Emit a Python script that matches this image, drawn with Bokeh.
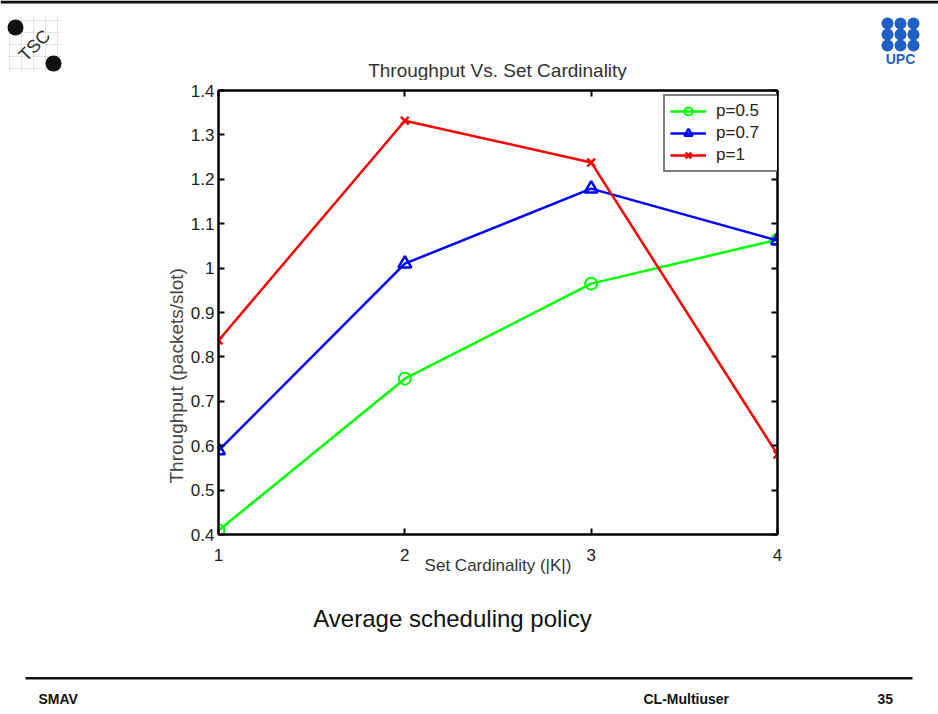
import math
from bokeh.plotting import figure
from bokeh.layouts import column
from bokeh.models import (Range1d, LinearAxis, FixedTicker, Legend, LegendItem, Title)
from bokeh.core.properties import value
from bokeh.embed import file_html
from bokeh.resources import INLINE

# ---------------- data ----------------
cardinality = [1, 2, 3, 4]
p05 = [0.409, 0.751, 0.965, 1.064]
p07 = [0.589, 1.010, 1.179, 1.062]
p10 = [0.837, 1.332, 1.238, 0.580]
series_names = ["p=0.5", "p=0.7", "p=1"]
x_ticks = [1, 2, 3, 4]
y_ticks = [0.4, 0.5, 0.6, 0.7, 0.8, 0.9, 1.0, 1.1, 1.2, 1.3, 1.4]
y_tick_labels = {0.4: "0.4", 0.5: "0.5", 0.6: "0.6", 0.7: "0.7", 0.8: "0.8", 0.9: "0.9",
                 1.0: "1", 1.1: "1.1", 1.2: "1.2", 1.3: "1.3", 1.4: "1.4"}
title_text = "Throughput Vs. Set Cardinality"
xlabel_text = "Set Cardinality (|K|)"
ylabel_text = "Throughput (packets/slot)"
caption_text = "Average scheduling policy"
footer_texts = ["SMAV", "CL-Multiuser", "35"]

W = 938
FONT = "Liberation Sans"
HEAD_H, CHART_H, FOOT_H = 80, 520, 114   # 80 + 520 + 114 = 714


def no_align(f):
    if "frame_align" in f.properties():
        f.frame_align = False


def blank_fig(h, y_top):
    f = figure(width=W, height=h, output_backend="svg", toolbar_location=None,
               x_range=Range1d(0, W), y_range=Range1d(y_top + h, y_top),
               x_axis_type=None, y_axis_type=None,
               min_border_left=0, min_border_right=0, min_border_top=0, min_border_bottom=0)
    f.outline_line_color = None
    f.xgrid.visible = False
    f.ygrid.visible = False
    f.background_fill_color = "white"
    f.border_fill_color = "white"
    no_align(f)
    return f


# ---------------- header (page y 0..80) ----------------
head = blank_fig(HEAD_H, 0)
head.quad(left=[0], right=[W], top=[0], bottom=[3], fill_color="#111111", line_color=None)
# TSC logo
for gx in (9, 21, 33, 45, 57):
    head.segment(x0=[gx], y0=[16], x1=[gx], y1=[72], line_color="#e4e4e4", line_width=1)
for gy in (20, 32, 44, 56, 68):
    head.segment(x0=[7], y0=[gy], x1=[61], y1=[gy], line_color="#e4e4e4", line_width=1)
head.scatter(x=[15, 53], y=[27, 63], size=16, marker="circle", fill_color="#111111",
             line_color=None)
head.text(x=[34], y=[45], text=["TSC"], angle=[math.pi / 4], text_font=value(FONT),
          text_font_size="18px", text_color="#2e2e2e", text_align="center",
          text_baseline="middle")
# UPC logo
upc_x = [887, 900, 913] * 3
upc_y = [23] * 3 + [34] * 3 + [45] * 3
head.scatter(x=upc_x, y=upc_y, size=12, marker="circle", fill_color="#1f5fc6",
             line_color=None)
head.text(x=[900], y=[58], text=["UPC"], text_font=value(FONT), text_font_size="14px",
          text_font_style="bold", text_color="#1f5fc6", text_align="center",
          text_baseline="middle")
# chart title
head.text(x=[497], y=[70], text=[title_text], text_font=value(FONT), text_font_size="19px",
          text_color="#333333", text_align="center", text_baseline="middle")

# ---------------- chart (page y 80..600) ----------------
FL, FR, FT, FB = 218, 777, 90, 534  # frame edges in page pixels
p = figure(width=W, height=CHART_H, output_backend="svg", toolbar_location=None,
           x_range=Range1d(1, 4), y_range=Range1d(0.4, 1.4),
           min_border_left=FL, min_border_right=W - FR,
           min_border_top=FT - HEAD_H, min_border_bottom=HEAD_H + CHART_H - FB,
           x_axis_type=None, y_axis_type=None)
p.title = None
p.background_fill_color = "white"
p.border_fill_color = "white"
p.outline_line_color = "black"
p.outline_line_width = 2
p.xgrid.visible = False
p.ygrid.visible = False
no_align(p)


def style_axis(ax):
    ax.axis_line_color = "black"
    ax.axis_line_width = 2
    ax.major_tick_in = 6
    ax.major_tick_out = 0
    ax.major_tick_line_width = 2
    ax.major_tick_line_color = "black"
    ax.minor_tick_line_color = None
    ax.major_label_text_font = FONT
    ax.major_label_text_font_size = "17px"
    ax.major_label_text_color = "#222222"
    ax.major_label_standoff = 4


xb = LinearAxis(ticker=FixedTicker(ticks=x_ticks), axis_label=xlabel_text)
style_axis(xb)
xb.major_label_standoff = 14
xb.axis_label_text_font = FONT
xb.axis_label_text_font_size = "17px"
xb.axis_label_text_font_style = "normal"
xb.axis_label_text_color = "#333333"
xb.axis_label_standoff = -8
p.add_layout(xb, "below")

xa = LinearAxis(ticker=FixedTicker(ticks=x_ticks),
                major_label_overrides={t: "" for t in x_ticks})
style_axis(xa)
xa.major_label_standoff = 0
xa.major_label_text_font_size = "2px"
p.add_layout(xa, "above")

yl = LinearAxis(ticker=FixedTicker(ticks=y_ticks), major_label_overrides=y_tick_labels)
style_axis(yl)
p.add_layout(yl, "left")

yr = LinearAxis(ticker=FixedTicker(ticks=y_ticks),
                major_label_overrides={t: "" for t in y_ticks})
style_axis(yr)
yr.major_label_standoff = 0
yr.major_label_text_font_size = "2px"
p.add_layout(yr, "right")

ytitle = Title(text=ylabel_text, align="left", offset=51, standoff=0,
               text_font=FONT, text_font_size="19px", text_font_style="normal",
               text_color="#444444", vertical_align="middle")
p.add_layout(ytitle, "left")

# ---------------- series ----------------
l1 = p.line(cardinality, p05, line_color="#00ff00", line_width=2.5)
m1 = p.scatter(cardinality, p05, marker="circle", size=12, line_color="#00ff00",
               line_width=2, fill_color=None)
l2 = p.line(cardinality, p07, line_color="#0000ff", line_width=2.5)
m2 = p.scatter(cardinality, p07, marker="triangle", size=13, line_color="#0000ff",
               line_width=2.5, fill_color=None)
l3 = p.line(cardinality, p10, line_color="#ff0000", line_width=2.5)
m3 = p.scatter(cardinality, p10, marker="x", size=11, line_color="#ff0000", line_width=2.5)

legend = Legend(items=[LegendItem(label=series_names[0], renderers=[l1, m1]),
                       LegendItem(label=series_names[1], renderers=[l2, m2]),
                       LegendItem(label=series_names[2], renderers=[l3, m3])],
                location=(445, 362))
legend.border_line_color = "black"
legend.border_line_width = 2
legend.background_fill_color = "white"
legend.background_fill_alpha = 1
legend.label_text_font = FONT
legend.label_text_font_size = "17px"
legend.label_text_color = "#222222"
legend.glyph_width = 36
legend.glyph_height = 20
legend.label_height = 20
legend.label_width = 60
legend.label_standoff = 10
legend.spacing = 2
legend.padding = 5
legend.margin = 0
p.add_layout(legend, "center")

# ---------------- footer (page y 600..714) ----------------
foot = blank_fig(FOOT_H, HEAD_H + CHART_H)
foot.text(x=[452], y=[618], text=[caption_text], text_font=value(FONT), text_font_size="24px",
          text_color="#111111", text_align="center", text_baseline="middle")
foot.quad(left=[25], right=[912], top=[676.5], bottom=[679], fill_color="#111111",
          line_color=None)
foot.text(x=[38, 643, 877], y=[698, 698, 698], text=footer_texts, text_font=value(FONT),
          text_font_size="14px", text_font_style="bold", text_color="#111111",
          text_align="left", text_baseline="middle")

layout = column(head, p, foot, spacing=0)
open("out.html", "w").write(file_html(layout, INLINE))
